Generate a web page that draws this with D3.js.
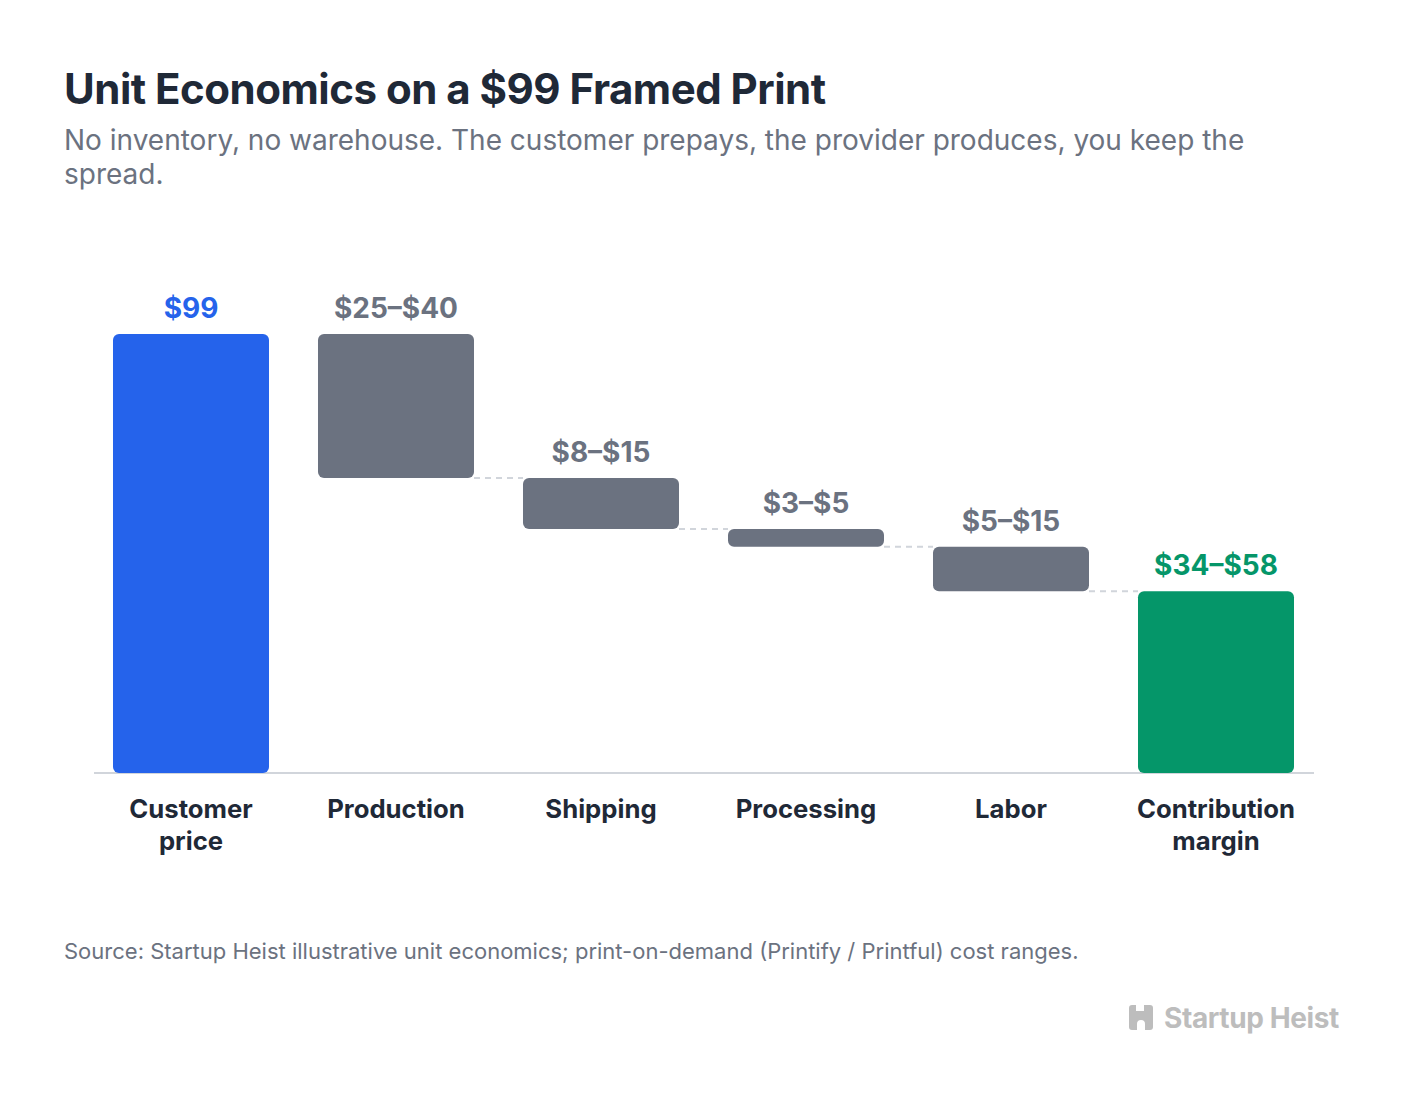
<!DOCTYPE html>
<html><head><meta charset="utf-8">
<script src="https://cdn.jsdelivr.net/npm/d3@7"></script>
<style>
html,body{margin:0;padding:0;background:#fff;}
svg{display:block;font-family:Inter,"Noto Sans",sans-serif;}
</style></head>
<body><svg id="c" width="1408" height="1102"></svg>
<script>
const categories = ["Customer price","Production","Shipping","Processing","Labor","Contribution margin"];
const kinds = ["total","cost","cost","cost","cost","result"];
const values = [99, 32.5, 11.5, 4, 10, 41];
const valueLabels = ["$99","$25–$40","$8–$15","$3–$5","$5–$15","$34–$58"];
const titleText = "Unit Economics on a $99 Framed Print";
const subtitleText = "No inventory, no warehouse. The customer prepays, the provider produces, you keep the spread.";
const sourceText = "Source: Startup Heist illustrative unit economics; print-on-demand (Printify / Printful) cost ranges.";

const colors = {total:"#2563eb", cost:"#6b7280", result:"#059669"};
const svg = d3.select("#c");

let running = 0;
const bars = categories.map((c,i)=>{
  let y0,y1;
  if(kinds[i]==="total"){ y0=0; y1=values[i]; running=values[i]; }
  else if(kinds[i]==="cost"){ y1=running; y0=running-values[i]; running=y0; }
  else { y0=0; y1=values[i]; }
  return {c, kind:kinds[i], y0, y1, label:valueLabels[i]};
});

const x = d3.scaleBand().domain(categories).range([88.5,1318.5]).paddingInner(0.239).paddingOuter(0.1195);
const y = d3.scaleLinear().domain([0,99]).range([773,334]);

svg.append("text").attr("x",64).attr("y",104).attr("font-size",42).attr("font-weight",700)
  .attr("fill","#1f2937").attr("letter-spacing","-0.5").text(titleText);

function wrapLines(text, maxW, fontSize, weight){
  const t = svg.append("text").attr("font-size",fontSize).attr("font-weight",weight).attr("visibility","hidden");
  const words = text.split(" "); const lines=[]; let cur="";
  words.forEach(w=>{
    const test = cur? cur+" "+w : w;
    t.text(test);
    if(t.node().getComputedTextLength()>maxW && cur){ lines.push(cur); cur=w; } else cur=test;
  });
  if(cur) lines.push(cur);
  t.remove(); return lines;
}
const subLines = wrapLines(subtitleText, 1275, 28, 400);
const sub = svg.append("text").attr("x",64).attr("y",150).attr("font-size",28).attr("fill","#6b7280");
subLines.forEach((l,i)=>sub.append("tspan").attr("x",64).attr("dy",i?34:0).text(l));

svg.append("line").attr("x1",94).attr("x2",1314).attr("y1",773).attr("y2",773)
  .attr("stroke","#d1d5db").attr("stroke-width",2);

bars.forEach((b,i)=>{
  if(i===0) return;
  const prev = bars[i-1];
  if(prev.kind==="total") return;
  const level = prev.y0;
  svg.append("line").attr("x1",x(prev.c)+x.bandwidth()).attr("x2",x(b.c))
    .attr("y1",y(level)).attr("y2",y(level))
    .attr("stroke","#d1d5db").attr("stroke-width",2).attr("stroke-dasharray","6,5");
});

svg.selectAll("rect.bar").data(bars).enter().append("rect").attr("class","bar")
  .attr("x",d=>x(d.c)).attr("width",x.bandwidth())
  .attr("y",d=>y(d.y1)).attr("height",d=>y(d.y0)-y(d.y1))
  .attr("rx",6).attr("fill",d=>colors[d.kind]);

svg.selectAll("text.val").data(bars).enter().append("text").attr("class","val")
  .attr("x",d=>x(d.c)+x.bandwidth()/2).attr("y",d=>y(d.y1)-16)
  .attr("text-anchor","middle").attr("font-size",28).attr("font-weight",700)
  .attr("fill",d=>colors[d.kind]).text(d=>d.label);

const xAxis = svg.append("g");
categories.forEach(c=>{
  const lines = wrapLines(c, 175, 25.7, 700);
  const t = xAxis.append("text").attr("x",x(c)+x.bandwidth()/2).attr("y",818)
    .attr("text-anchor","middle").attr("font-size",25.7).attr("font-weight",700).attr("fill","#1f2937");
  lines.forEach((l,i)=>t.append("tspan").attr("x",x(c)+x.bandwidth()/2).attr("dy",i?32:0).text(l));
});

svg.append("text").attr("x",64).attr("y",959).attr("font-size",22).attr("fill","#6b7280").text(sourceText);

const wm = svg.append("g").attr("fill","#bdbdbd");
wm.append("path").attr("d","M1133,1005 h6 v6 h8 v-6 h6 a3,3 0 0 1 3,3 v19 a3,3 0 0 1 -3,3 h-5 v-6 a4,4 0 0 0 -8,0 v6 h-5 a3,3 0 0 1 -3,-3 v-19 a3,3 0 0 1 3,-3 z")
  .attr("transform","translate(-3,0)");
svg.append("text").attr("x",1164).attr("y",1028).attr("font-size",28).attr("font-weight",700)
  .attr("fill","#bdbdbd").attr("letter-spacing","-0.4").text("Startup Heist");
</script></body></html>
